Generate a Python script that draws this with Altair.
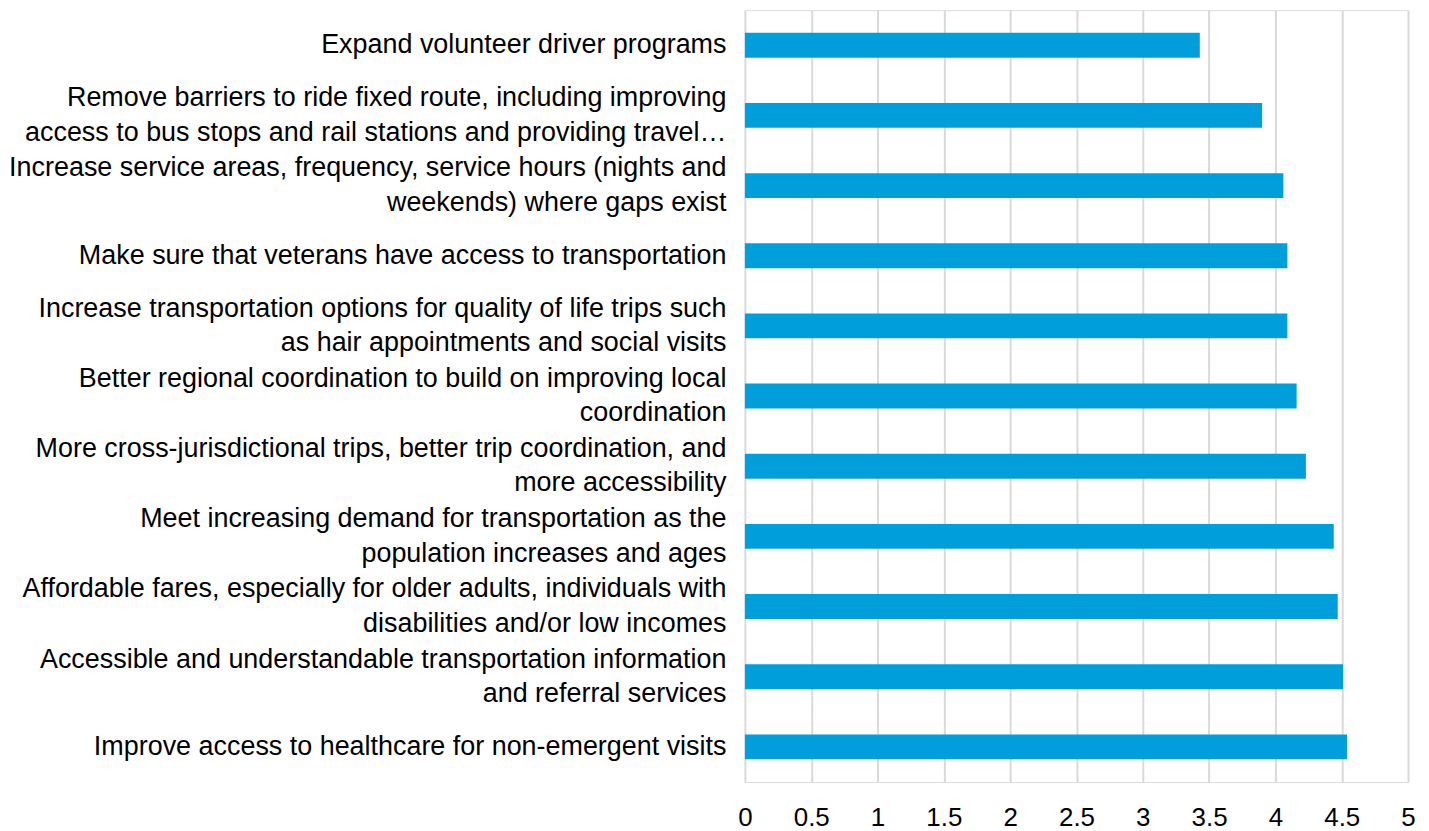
import altair as alt
import pandas as pd

categories = [
    "Expand volunteer driver programs",
    "Remove barriers to ride fixed route, including improving|access to bus stops and rail stations and providing travel…",
    "Increase service areas, frequency, service hours (nights and|weekends) where gaps exist",
    "Make sure that veterans have access to transportation",
    "Increase transportation options for quality of life trips such|as hair appointments and social visits",
    "Better regional coordination to build on improving local|coordination",
    "More cross-jurisdictional trips, better trip coordination, and|more accessibility",
    "Meet increasing demand for transportation as the|population increases and ages",
    "Affordable fares, especially for older adults, individuals with|disabilities and/or low incomes",
    "Accessible and understandable transportation information|and referral services",
    "Improve access to healthcare for non-emergent visits",
]
values = [3.43, 3.90, 4.06, 4.09, 4.09, 4.16, 4.23, 4.44, 4.47, 4.51, 4.54]
x_ticks = [0, 0.5, 1, 1.5, 2, 2.5, 3, 3.5, 4, 4.5, 5]

df = pd.DataFrame({"item": categories, "score": values})

FONT = "Liberation Sans"
LINE_H = 34.5

chart = (
    alt.Chart(df)
    .mark_bar(color="#009fdb")
    .encode(
        x=alt.X(
            "score:Q",
            scale=alt.Scale(domain=[0, 5], nice=False),
            axis=alt.Axis(
                values=x_ticks,
                format="~g",
                title=None,
                domain=False,
                ticks=False,
                grid=True,
                gridColor="#d9d9d9",
                gridWidth=2,
                labelFont=FONT,
                labelFontSize=26,
                labelColor="#000000",
                labelPadding=23,
                labelFlush=False,
            ),
        ),
        y=alt.Y(
            "item:N",
            sort=None,
            scale=alt.Scale(paddingInner=0.645, paddingOuter=0.3225),
            axis=alt.Axis(
                title=None,
                domain=False,
                ticks=False,
                grid=False,
                labelFont=FONT,
                labelFontSize=27,
                labelColor="#000000",
                labelPadding=19,
                labelLimit=1000,
                labelLineHeight=LINE_H,
                labelExpr="split(datum.label, '|')",
                labelOffset={
                    "condition": {"test": "indexof(datum.value, '|') >= 0", "value": -LINE_H / 2},
                    "value": 0,
                },
            ),
        ),
    )
    .properties(
        width=665,
        height=774,
        padding={"left": 0, "top": 1, "right": 5, "bottom": 5},
    )
    .configure_view(stroke=None)
    .configure(background="#ffffff")
)

chart.save("out.html", embed_options={"renderer": "svg", "actions": False})
